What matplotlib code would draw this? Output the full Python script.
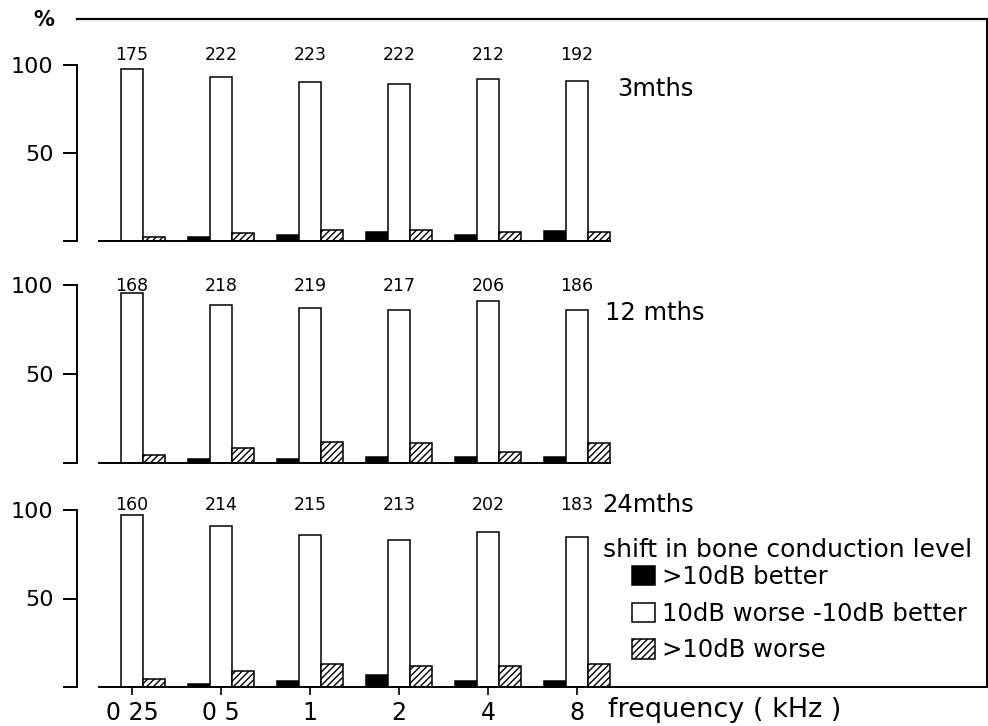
import matplotlib

matplotlib.use("Agg")
import matplotlib.pyplot as plt
from matplotlib.lines import Line2D

# ---- data ----
frequencies = ["0 25", "0 5", "1", "2", "4", "8"]
periods = ["3mths", "12 mths", "24mths"]

counts_3m = [175, 222, 223, 222, 212, 192]
counts_12m = [168, 218, 219, 217, 206, 186]
counts_24m = [160, 214, 215, 213, 202, 183]

better_3m = [0, 2, 3.5, 5, 3.5, 5.5]
middle_3m = [98, 93, 90.5, 89, 92, 91]
worse_3m = [2, 4.5, 6, 6, 5, 5]

better_12m = [0, 2.5, 2, 3.5, 3.5, 3.5]
middle_12m = [95.5, 89, 87, 86, 91, 86]
worse_12m = [4.5, 8.5, 12, 11, 6, 11]

better_24m = [0, 1.5, 3.5, 7, 3.5, 3.5]
middle_24m = [97, 91, 86, 83, 87.5, 85]
worse_24m = [4.5, 9, 13, 12, 12, 13]

legend_title = "shift in bone conduction level"
legend_labels = [">10dB better", "10dB worse -10dB better", ">10dB worse"]

# ---- layout (pixels of a 988x726 canvas) ----
W, H = 988, 726
AX_LEFT, AX_RIGHT = 77, 987
PX_PER_GROUP = 89.0
FIRST_CENTER = 132
panels = [
    # top px, bottom px, count label y (data), period label (x, y) px
    (65, 241, 105.5, (617, 89)),
    (285, 463, 99.5, (605, 313)),
    (510, 687, 103.0, (602, 505)),
]
BAR_W = 0.25


def fx(px):
    return px / W


def fy(py):
    return 1 - py / H


plt.rcParams["font.family"] = ["DejaVu Sans"]
fig = plt.figure(figsize=(W / 100, H / 100), dpi=100)

x_left = -(FIRST_CENTER - AX_LEFT) / PX_PER_GROUP
x_right = x_left + (AX_RIGHT - AX_LEFT) / PX_PER_GROUP

series = [
    (counts_3m, better_3m, middle_3m, worse_3m),
    (counts_12m, better_12m, middle_12m, worse_12m),
    (counts_24m, better_24m, middle_24m, worse_24m),
]

handles = None
for idx, ((top, bottom, count_y, (lx, ly)), (counts, better, middle, worse)) in enumerate(
    zip(panels, series)
):
    ax = fig.add_axes([fx(AX_LEFT), fy(bottom), fx(AX_RIGHT - AX_LEFT), (bottom - top) / H])
    xs = list(range(len(frequencies)))

    b1 = ax.bar([x - BAR_W for x in xs], better, BAR_W, color="black",
                edgecolor="black", linewidth=1.1)
    b2 = ax.bar(xs, middle, BAR_W, color="white", edgecolor="black", linewidth=1.1)
    b3 = ax.bar([x + BAR_W for x in xs], worse, BAR_W, color="white",
                edgecolor="black", linewidth=1.1, hatch="/////")
    if handles is None:
        handles = [b1, b2, b3]

    for x, c in zip(xs, counts):
        ax.text(x, count_y, str(c), ha="center", va="center", fontsize=12.5)

    ax.set_xlim(x_left, x_right)
    ax.set_ylim(0, 100)
    ax.patch.set_visible(False)

    for side in ("top", "right"):
        ax.spines[side].set_visible(False)
    ax.spines["left"].set_bounds(0, 100)
    ax.spines["left"].set_linewidth(1.4)
    ax.spines["bottom"].set_linewidth(1.4)
    last = idx == len(panels) - 1
    ax.spines["bottom"].set_bounds(-1.5 * BAR_W, x_right if last else len(xs) - 1 + 1.5 * BAR_W)

    ax.set_yticks([0, 50, 100], ["", "50", "100"])
    ax.tick_params(axis="y", direction="out", length=10, width=1.4, pad=7, labelsize=16)

    if last:
        ax.set_xticks(xs, frequencies)
        ax.tick_params(axis="x", direction="out", length=6, width=1.2, pad=4, labelsize=17)
    else:
        ax.set_xticks([])

    fig.text(fx(lx), fy(ly), periods[idx], ha="left", va="center", fontsize=17.5)

# axis titles and frame
fig.text(fx(33), fy(20), "%", ha="left", va="center", fontsize=15, fontweight="bold")
fig.text(fx(608), fy(710), "frequency ( kHz )", ha="left", va="center", fontsize=19.5)
fig.add_artist(Line2D([fx(77), fx(987)], [fy(19), fy(19)], color="black", linewidth=1.6))
fig.add_artist(Line2D([fx(987), fx(987)], [fy(19), fy(687)], color="black", linewidth=1.4))

# legend
fig.text(fx(603), fy(550), legend_title, ha="left", va="center", fontsize=18)
fig.legend(
    handles,
    legend_labels,
    loc="upper left",
    bbox_to_anchor=(fx(632), fy(565)),
    frameon=False,
    fontsize=17.5,
    borderpad=0,
    borderaxespad=0,
    handlelength=0.95,
    handleheight=0.85,
    handletextpad=0.3,
    labelspacing=0.52,
)

fig.savefig("out.png", dpi=100)
